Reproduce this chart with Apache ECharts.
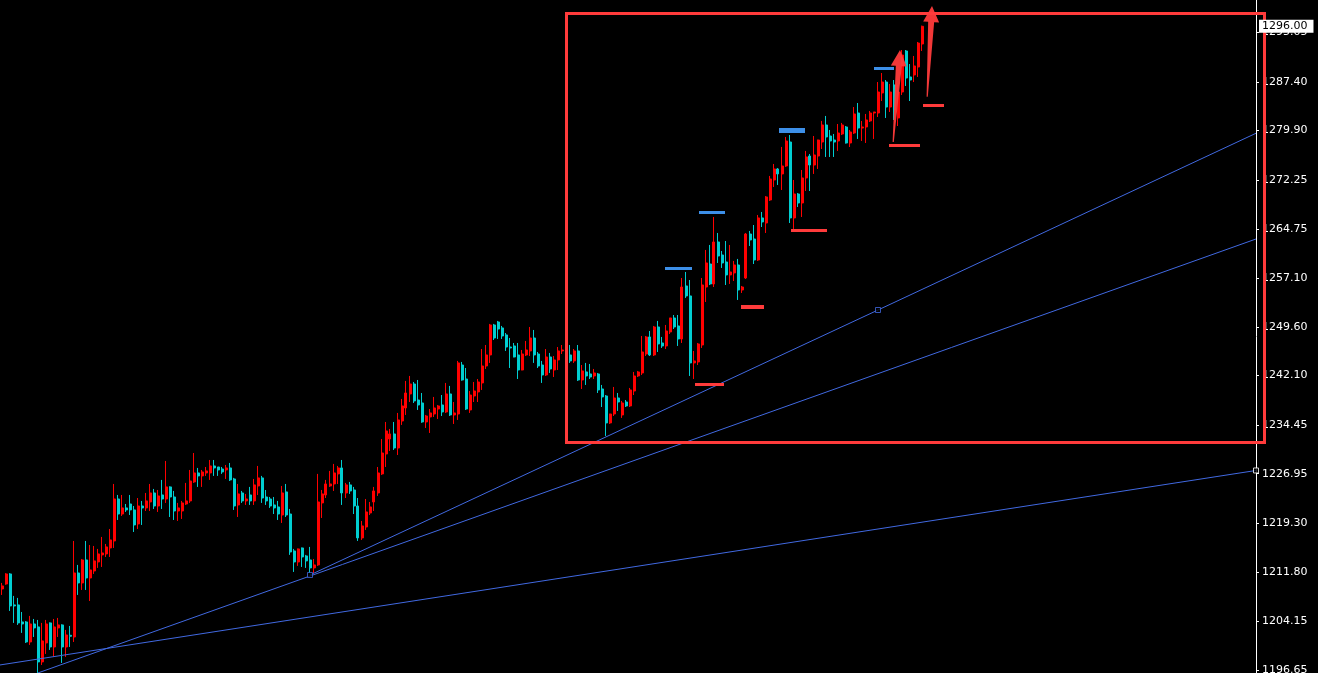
<!DOCTYPE html>
<html><head><meta charset="utf-8">
<script src="https://cdn.jsdelivr.net/npm/echarts@6/dist/echarts.min.js"></script>
<style>html,body{margin:0;padding:0;background:#000;overflow:hidden}#c{width:1318px;height:673px}</style>
</head><body><div id="c"></div>
<script>
// ---- candle values ----
const opens = [1209.15,1209.92,1211.47,1206.69,1206.69,1204.06,1204.06,1200.97,1203.75,1203.29,
1197.89,1200.82,1203.91,1200.20,1203.14,1203.60,1200.20,1202.00,1201.74,1211.62,
1210.08,1213.63,1210.85,1211.93,1213.32,1214.41,1214.56,1215.48,1216.56,1223.04,
1220.72,1221.66,1222.27,1221.35,1219.19,1221.96,1221.66,1222.58,1223.97,1221.96,
1223.66,1223.04,1224.90,1223.35,1221.19,1221.19,1222.27,1222.74,1225.67,1227.06,
1226.60,1227.06,1227.06,1228.14,1227.98,1227.67,1227.52,1227.83,1226.13,1222.12,
1223.97,1222.74,1223.66,1222.74,1225.05,1226.29,1223.35,1223.04,1222.12,1221.81,
1220.57,1224.13,1220.72,1215.02,1213.32,1215.48,1214.25,1213.63,1212.40,1212.86,
1222.43,1223.66,1225.05,1225.36,1226.91,1227.83,1223.97,1225.21,1224.43,1221.96,
1217.03,1218.72,1220.88,1222.58,1223.97,1226.91,1229.99,1232.30,1233.08,1230.91,
1235.08,1237.09,1239.25,1240.79,1238.32,1237.86,1234.93,1235.70,1236.16,1236.93,
1237.55,1236.47,1239.25,1236.01,1236.16,1243.72,1241.56,1236.78,1238.94,1239.56,
1240.95,1243.57,1245.27,1249.90,1250.36,1249.44,1248.36,1246.50,1246.66,1245.27,
1242.95,1245.27,1245.89,1247.89,1245.42,1243.72,1242.18,1244.96,1242.95,1244.50,
1245.89,1246.04,1245.27,1244.35,1245.89,1241.41,1242.65,1242.34,1242.03,1242.34,
1240.02,1238.94,1234.78,1236.16,1238.63,1236.01,1238.01,1237.40,1239.71,1242.03,
1242.49,1245.42,1248.05,1245.27,1249.59,1247.12,1246.66,1248.82,1250.98,1249.75,
1247.74,1255.92,1254.38,1244.04,1244.19,1246.81,1255.76,1259.31,1256.23,1262.71,
1260.70,1259.62,1257.62,1257.93,1259.16,1255.30,1257.15,1263.94,1263.17,1259.93,
1266.42,1265.64,1269.19,1272.28,1273.98,1273.21,1274.44,1278.14,1266.42,1270.12,
1268.73,1272.59,1275.98,1274.59,1275.98,1278.14,1280.77,1279.07,1278.45,1278.30,
1279.38,1280.46,1277.99,1279.53,1282.62,1280.30,1280.46,1281.39,1282.62,1282.62,
1285.71,1287.40,1283.54,1286.94,1281.85,1285.86,1292.19,1288.18,1288.49,1289.72,
1293.27];
const closes = [1209.62,1211.47,1206.53,1206.53,1203.91,1203.75,1200.97,1203.75,1203.14,1197.89,
1201.13,1203.75,1200.20,1203.29,1203.60,1200.20,1202.05,1201.85,1211.62,1210.08,
1213.63,1210.85,1212.09,1213.48,1214.56,1214.71,1215.64,1216.72,1223.04,1220.72,
1221.66,1221.35,1221.35,1219.03,1221.96,1221.66,1222.74,1223.97,1221.96,1223.51,
1223.04,1224.90,1223.35,1221.19,1221.66,1222.43,1222.74,1225.82,1227.06,1226.60,
1227.21,1227.37,1228.14,1227.83,1227.52,1227.21,1227.83,1225.98,1221.96,1223.82,
1222.74,1223.04,1222.74,1225.21,1226.29,1223.19,1222.74,1221.96,1221.66,1220.72,
1223.97,1220.57,1214.86,1213.32,1215.33,1214.09,1213.48,1212.40,1212.86,1222.58,
1223.82,1225.36,1225.36,1227.06,1227.83,1223.97,1225.21,1224.28,1221.96,1217.03,
1218.88,1221.04,1221.81,1224.28,1227.06,1230.14,1233.54,1233.08,1230.91,1235.24,
1237.40,1239.40,1240.79,1238.17,1237.55,1234.93,1235.85,1236.32,1237.09,1237.40,
1236.47,1239.25,1236.01,1236.32,1244.04,1241.41,1236.93,1239.09,1239.71,1241.10,
1243.57,1245.27,1249.90,1247.89,1249.28,1248.20,1246.50,1246.35,1244.96,1242.95,
1245.42,1246.04,1247.89,1245.27,1243.57,1242.18,1244.96,1243.11,1244.50,1245.89,
1246.04,1245.27,1244.35,1245.89,1241.41,1242.80,1242.03,1241.87,1242.49,1239.87,
1238.79,1234.78,1236.16,1238.63,1238.01,1237.86,1237.40,1239.87,1242.03,1242.65,
1245.73,1248.05,1245.27,1249.59,1246.97,1246.66,1248.97,1250.98,1249.59,1247.74,
1255.76,1254.38,1244.04,1244.35,1246.97,1256.07,1259.47,1256.23,1262.71,1260.55,
1259.47,1257.62,1258.08,1259.16,1255.30,1255.76,1263.94,1263.02,1259.93,1266.42,
1265.80,1269.66,1272.43,1273.98,1273.21,1274.44,1278.30,1266.42,1270.12,1268.73,
1272.59,1275.83,1274.59,1276.14,1278.45,1280.77,1278.92,1278.30,1278.14,1279.53,
1280.77,1277.99,1279.69,1282.47,1280.30,1280.46,1281.54,1282.62,1282.77,1285.86,
1287.40,1283.54,1285.86,1283.08,1285.86,1291.57,1288.02,1287.71,1289.88,1293.42,
1296.00];
const lows = [1208.23,1209.80,1205.76,1203.91,1203.60,1202.37,1200.82,1200.51,1201.74,1196.19,
1197.42,1199.12,1199.74,1198.66,1201.74,1197.73,1198.66,1200.20,1200.97,1208.23,
1209.00,1209.00,1207.30,1211.47,1212.40,1212.55,1214.09,1214.09,1215.48,1219.80,
1220.42,1221.04,1220.57,1217.95,1218.41,1219.03,1221.19,1221.19,1221.50,1221.04,
1221.50,1222.43,1220.26,1219.80,1219.65,1219.96,1222.12,1222.43,1225.52,1224.90,
1224.90,1226.60,1225.98,1226.60,1226.60,1226.91,1226.13,1225.82,1221.35,1220.26,
1222.43,1222.12,1222.12,1222.12,1223.66,1222.43,1222.12,1221.66,1220.72,1219.80,
1219.34,1220.26,1214.41,1211.78,1212.71,1212.55,1212.40,1211.62,1211.62,1212.71,
1220.11,1223.19,1224.90,1224.28,1225.36,1222.12,1223.19,1223.82,1220.72,1216.56,
1216.72,1218.26,1220.57,1221.19,1223.51,1226.75,1227.98,1230.45,1230.61,1229.83,
1234.47,1236.01,1238.01,1237.86,1236.78,1234.80,1234.00,1233.23,1235.70,1235.39,
1235.85,1236.32,1235.85,1234.62,1235.24,1241.30,1236.78,1236.32,1238.01,1238.01,
1239.87,1243.11,1244.04,1247.58,1247.74,1247.74,1245.89,1243.26,1244.90,1241.56,
1242.90,1245.11,1245.11,1244.04,1243.26,1240.95,1242.03,1242.49,1241.87,1242.95,
1245.42,1244.50,1244.04,1244.04,1241.26,1240.02,1240.64,1241.56,1241.56,1239.40,
1237.24,1232.77,1234.62,1235.85,1236.63,1235.55,1237.24,1237.24,1239.09,1241.87,
1242.18,1245.11,1245.11,1245.11,1245.73,1246.35,1246.19,1248.51,1249.28,1246.66,
1247.12,1254.07,1242.03,1241.56,1243.72,1246.35,1253.45,1256.07,1255.76,1259.47,
1258.70,1256.07,1256.23,1256.69,1253.76,1254.84,1257.00,1262.09,1259.31,1259.78,
1265.02,1264.10,1269.04,1271.20,1271.51,1270.74,1274.30,1265.64,1264.72,1268.11,
1266.57,1270.58,1270.58,1273.21,1273.98,1277.06,1275.83,1275.83,1275.83,1276.76,
1279.22,1277.90,1277.37,1279.38,1278.61,1278.30,1277.99,1281.23,1278.61,1282.00,
1284.47,1281.85,1282.77,1281.54,1280.61,1285.40,1286.79,1284.47,1287.40,1288.18,
1292.19];
const highs = [1210.08,1211.60,1211.60,1208.08,1207.77,1205.60,1204.20,1204.99,1204.52,1204.37,
1203.91,1204.37,1204.00,1204.52,1204.68,1203.70,1202.83,1203.44,1216.56,1212.86,
1213.78,1216.56,1215.94,1215.79,1215.33,1217.18,1216.10,1218.41,1225.36,1223.66,
1223.66,1222.27,1223.66,1221.96,1223.19,1222.74,1223.97,1225.36,1224.59,1224.43,
1225.98,1228.91,1225.00,1224.28,1222.43,1222.74,1225.52,1227.52,1230.14,1227.83,
1227.52,1227.98,1229.06,1229.06,1227.98,1227.98,1228.29,1228.60,1226.30,1225.36,
1224.28,1223.82,1224.90,1226.13,1228.14,1226.60,1224.43,1223.35,1223.35,1222.74,
1225.05,1225.36,1221.50,1215.33,1215.40,1215.55,1214.41,1215.64,1213.78,1226.91,
1224.43,1225.98,1227.37,1228.45,1228.14,1229.06,1225.52,1225.67,1224.90,1223.19,
1219.65,1223.04,1222.58,1224.90,1227.98,1232.30,1234.93,1233.85,1234.93,1236.32,
1238.48,1241.26,1242.03,1241.10,1241.41,1239.40,1236.01,1236.93,1238.79,1237.55,
1239.09,1240.95,1240.49,1238.01,1244.35,1244.19,1243.26,1239.71,1241.10,1241.56,
1246.19,1246.81,1250.06,1250.06,1250.52,1249.75,1248.66,1247.89,1247.12,1247.12,
1246.04,1247.43,1249.59,1249.13,1245.73,1244.35,1246.19,1245.58,1245.11,1246.50,
1246.81,1246.66,1246.81,1246.19,1246.81,1243.72,1244.04,1243.88,1243.11,1242.49,
1240.64,1239.09,1236.20,1240.33,1239.40,1238.17,1238.32,1240.18,1242.65,1242.80,
1248.20,1248.20,1248.97,1249.75,1250.52,1248.05,1249.90,1251.00,1251.44,1251.44,
1257.15,1258.08,1256.84,1245.89,1247.12,1257.15,1261.48,1262.25,1266.57,1264.10,
1261.32,1262.86,1262.25,1259.78,1260.09,1255.92,1264.10,1264.41,1265.33,1266.88,
1267.34,1269.80,1272.90,1274.75,1274.13,1277.38,1278.92,1279.22,1272.28,1270.27,
1273.82,1276.76,1276.29,1279.07,1278.50,1281.39,1282.16,1280.00,1279.38,1280.92,
1281.08,1280.61,1280.00,1283.54,1284.16,1281.39,1282.47,1282.93,1282.80,1287.40,
1288.79,1287.71,1287.10,1287.71,1286.94,1292.34,1292.34,1290.18,1291.42,1293.58,
1296.10];
const slotCount = 314;
const categories = Array.from({length: slotCount}, (_, i) => String(i));
// ---- price axis tick labels ----
const tickValues = [1196.65,1204.15,1211.80,1219.30,1226.95,1234.45,1242.10,1249.60,1257.10,1264.75,1272.25,1279.90,1287.40,1295.05];
const lastPrice = 1296.00;
// ---- drawn objects, in [bar index, price] ----
const fanLineA = [[77, 1211.31], [219, 1252.21], [313.5, 1279.49]];
const fanLineB = [[9, 1196.19], [313.5, 1263.17]];
const fanLineC = [[-0.5, 1197.42], [313.5, 1227.44]];
const anchorPoints = [[77, 1211.31], [219, 1252.21]];
const axisAnchor = [[313.5, 1227.44]];
const highMarks = [[165.75, 172.5, 1258.62], [174.25, 180.75, 1267.26], [194.25, 200.75, 1279.92], [218, 223, 1289.49]];
const lowMarks = [[173.25, 180.5, 1240.72], [184.75, 190.5, 1252.68], [197.25, 206.25, 1264.48], [221.75, 229.5, 1277.60], [230.25, 235.5, 1283.78]];
const arrows = [[222.8, 1278.14, 224.5, 1292.34], [231.3, 1285.14, 232.5, 1299.13]];
const boxes = [[141.1, 1297.98, 315.5, 1231.76]];

// styles
const highMarkWidth = [3, 3, 5, 3];
const lowMarkWidth = [3, 4, 3, 3, 3];
const UP = '#ff0000', DOWN = '#00ced1', MARK_RED = '#ff3b3b', MARK_BLUE = '#3d8fe8', FAN = '#4169e1';

const candles = opens.map((o, i) => [o, closes[i], lows[i], highs[i]]);

function segRender(widths, color) {
  return function (params, api) {
    const a = api.coord([api.value(0), api.value(2)]);
    const b = api.coord([api.value(1), api.value(2)]);
    const t = widths[params.dataIndex];
    return {type: 'rect', shape: {x: Math.round(a[0]), y: Math.round(a[1] - t / 2), width: Math.round(b[0] - a[0]), height: t}, style: {fill: color}};
  };
}
function arrowRender(params, api) {
  const p0 = api.coord([api.value(0), api.value(1)]);
  const p1 = api.coord([api.value(2), api.value(3)]);
  const dx = p1[0] - p0[0], dy = p1[1] - p0[1];
  const len = Math.hypot(dx, dy);
  const ux = dx / len, uy = dy / len, nx = -uy, ny = ux;
  const headLen = 16, headHalf = 8, shaftHalf = 3, tailHalf = 0.6;
  const hb = [p1[0] - ux * headLen, p1[1] - uy * headLen];
  const pts = [
    [p0[0] + nx * tailHalf, p0[1] + ny * tailHalf],
    [hb[0] + nx * shaftHalf, hb[1] + ny * shaftHalf],
    [hb[0] + nx * headHalf, hb[1] + ny * headHalf],
    p1,
    [hb[0] - nx * headHalf, hb[1] - ny * headHalf],
    [hb[0] - nx * shaftHalf, hb[1] - ny * shaftHalf],
    [p0[0] - nx * tailHalf, p0[1] - ny * tailHalf]
  ];
  return {type: 'polygon', shape: {points: pts}, style: {fill: MARK_RED, opacity: 0.95}};
}
function boxRender(params, api) {
  const a = api.coord([api.value(0), api.value(1)]);
  const b = api.coord([api.value(2), api.value(3)]);
  return {type: 'rect', shape: {x: Math.round(a[0]) + 0.5, y: Math.round(a[1]) + 0.5, width: Math.round(b[0] - a[0]), height: Math.round(b[1] - a[1])},
    style: {fill: 'none', stroke: MARK_RED, lineWidth: 3}};
}

const chart = echarts.init(document.getElementById('c'), null, {renderer: 'canvas'});
chart.setOption({
  animation: false,
  backgroundColor: '#000000',
  grid: {left: 0, top: 0, width: 1256, bottom: 0, containLabel: false, outerBoundsMode: 'none'},
  xAxis: [
    {type: 'category', data: categories, boundaryGap: true, show: false},
    {type: 'value', min: -0.5, max: slotCount - 0.5, show: false}
  ],
  yAxis: {
    type: 'value', position: 'right', min: 1196.18, max: 1300.06,
    axisLine: {show: true, onZero: false, lineStyle: {color: '#ffffff', width: 1}},
    axisTick: {show: true, inside: false, length: 3, customValues: tickValues, lineStyle: {color: '#ffffff', width: 1}},
    axisLabel: {customValues: tickValues, color: '#ffffff', fontFamily: 'DejaVu Sans', fontSize: 11, margin: 6,
      formatter: v => v.toFixed(2)},
    splitLine: {show: false}
  },
  series: [
    {
      type: 'candlestick', xAxisIndex: 0, yAxisIndex: 0, data: candles, barWidth: 2.5,
      itemStyle: {color: UP, color0: DOWN, borderColor: UP, borderColor0: DOWN, borderColorDoji: UP, borderWidth: 1}
    },
    {type: 'line', xAxisIndex: 1, data: fanLineA, symbol: 'none', lineStyle: {color: FAN, width: 1}, z: 3},
    {type: 'line', xAxisIndex: 1, data: fanLineB, symbol: 'none', lineStyle: {color: FAN, width: 1}, z: 3},
    {type: 'line', xAxisIndex: 1, data: fanLineC, symbol: 'none', lineStyle: {color: FAN, width: 1}, z: 3},
    {type: 'scatter', xAxisIndex: 1, data: anchorPoints, symbol: 'rect', symbolSize: 5, clip: false,
      itemStyle: {color: '#000000', borderColor: FAN, borderWidth: 1}, z: 4},
    {type: 'scatter', xAxisIndex: 1, data: axisAnchor, symbol: 'rect', symbolSize: 5, clip: false,
      itemStyle: {color: '#000000', borderColor: '#ffffff', borderWidth: 1}, z: 4},
    {type: 'custom', xAxisIndex: 1, data: highMarks, renderItem: segRender(highMarkWidth, MARK_BLUE), clip: false, z: 5,
      encode: {x: [0, 1], y: 2}},
    {type: 'custom', xAxisIndex: 1, data: lowMarks, renderItem: segRender(lowMarkWidth, MARK_RED), clip: false, z: 5,
      encode: {x: [0, 1], y: 2}},
    {type: 'custom', xAxisIndex: 1, data: boxes, renderItem: boxRender, clip: false, z: 6,
      encode: {x: [0, 2], y: [1, 3]}},
    {type: 'custom', xAxisIndex: 1, data: arrows, renderItem: arrowRender, clip: false, z: 7,
      encode: {x: [0, 2], y: [1, 3]}},
    {
      type: 'line', xAxisIndex: 0, data: [], z: 20, silent: true,
      markLine: {
        silent: true, z: 20, symbol: ['none', 'none'], animation: false,
        lineStyle: {color: 'rgba(0,0,0,0)', width: 0},
        label: {show: true, position: 'end', distance: 3, formatter: lastPrice.toFixed(2), color: '#000000',
          backgroundColor: '#ffffff', fontFamily: 'DejaVu Sans', fontSize: 11, padding: [1, 6, 0, 3], lineHeight: 12},
        data: [{yAxis: lastPrice}]
      }
    }
  ]
});
</script>
</body></html>
